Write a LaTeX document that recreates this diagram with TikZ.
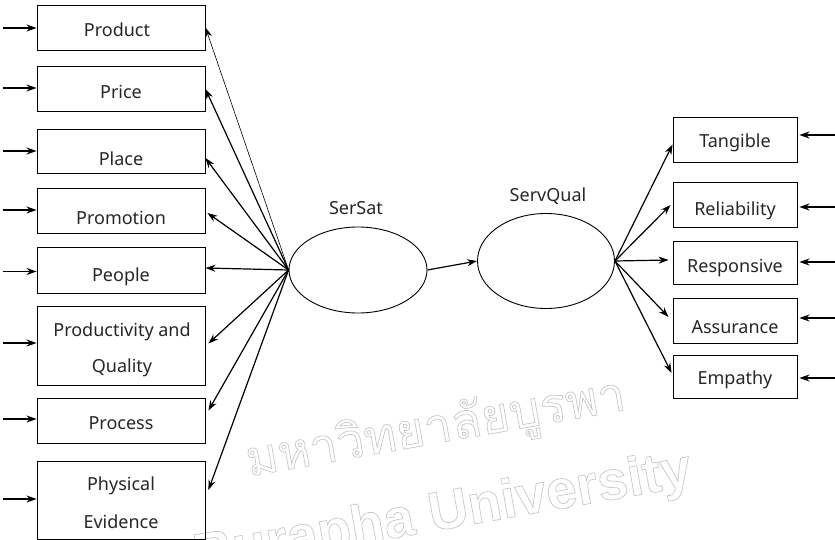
\documentclass[tikz,border=0pt]{standalone}
\usepackage{fontspec}
\setmainfont{Noto Sans}
\newfontfamily\thaifont[Script=Thai]{Loma}
\newfontfamily\wmfont{Liberation Sans}
\usetikzlibrary{arrows.meta,shapes.geometric}
\tikzset{
  box/.style={draw, line width=0.9pt, inner sep=0pt},
  lbl/.style={font=\fontsize{18}{20}\selectfont, inner sep=0pt, text=black!85},
  arr/.style={line width=1.2pt, -{Stealth[length=10pt,width=7pt]}},
  thinarr/.style={line width=0.6pt, -{Stealth[length=10pt,width=7pt]}},
  lat/.style={draw, ellipse, line width=0.9pt, inner sep=0pt},
  wm/.style={text=black!22, inner sep=0pt, rotate=10},
}
\newcommand{\outl}[1]{\special{pdf:code 1 Tr 0.7 w}#1\special{pdf:code 0 Tr}}
\begin{document}
\begin{tikzpicture}[x=1pt,y=-1pt]
\useasboundingbox (0,0) rectangle (835,540);
% watermark
\node[wm, font=\thaifont\fontsize{49}{54}\selectfont] (wm1) at (436,430) {\outl{มหาวิทยาลัยบูรพา}};
\node[wm, font=\wmfont\bfseries\fontsize{55}{60}\selectfont] (wm2) at (443,515) {\outl{Burapha University}};
% left boxes
\node[box, minimum width=168, minimum height=45] (prod) at (121,27.5) {};
\node[box, minimum width=168, minimum height=45] (price) at (121,88.5) {};
\node[box, minimum width=168, minimum height=44] (place) at (121,151) {};
\node[box, minimum width=168, minimum height=45] (promo) at (121,210.5) {};
\node[box, minimum width=168, minimum height=46] (people) at (121,270) {};
\node[box, minimum width=168, minimum height=79] (pq) at (121,345.5) {};
\node[box, minimum width=168, minimum height=45] (proc) at (121,420.5) {};
\node[box, minimum width=168, minimum height=78] (phys) at (121,500) {};
\node[lbl] (tprod) at (117,30) {Product};
\node[lbl] (tprice) at (121,92) {Price};
\node[lbl] (tplace) at (121,159) {Place};
\node[lbl] (tpromo) at (121,218) {Promotion};
\node[lbl] (tpeople) at (121,277) {People};
\node[lbl] (tpq1) at (122,332) {Productivity and};
\node[lbl] (tpq2) at (122,368) {Quality};
\node[lbl] (tproc) at (121,423) {Process};
\node[lbl] (tphys1) at (121,486) {Physical};
\node[lbl] (tphys2) at (121,522) {Evidence};
% right boxes
\node[box, minimum width=124, minimum height=45] (tang) at (735,139.5) {};
\node[box, minimum width=124, minimum height=45] (rel) at (735,204.5) {};
\node[box, minimum width=124, minimum height=43] (resp) at (735,263) {};
\node[box, minimum width=124, minimum height=45] (assu) at (735,320.5) {};
\node[box, minimum width=124, minimum height=43] (emp) at (735,376.5) {};
\node[lbl] (ttang) at (735,143) {Tangible};
\node[lbl] (trel) at (735,211) {Reliability};
\node[lbl] (tresp) at (735,268) {Responsive};
\node[lbl] (tassu) at (735,327) {Assurance};
\node[lbl] (temp) at (735,380) {Empathy};
% latent variables
\node[lat, minimum width=138, minimum height=86] (sersat) at (358,270) {};
\node[lat, minimum width=137, minimum height=95] (servq) at (546,261) {};
\node[lbl] (tsersat) at (356,208) {SerSat};
\node[lbl] (tservq) at (548,196) {ServQual};
\draw[arr] (sersat.east) -- (servq.west);
% left error arrows
\foreach \b/\dy in {prod/-0.5,price/0.5,place/0,promo/0.5,people/-1.5,pq/2.5,proc/1.5,phys/1}{
  \coordinate (e\b) at ([xshift=-34pt,yshift=\dy pt]\b.west);
  \draw[arr] (e\b) -- ([yshift=\dy pt]\b.west);
}
% SerSat to indicators
\draw[thinarr] (sersat.west) -- ([yshift=0pt]prod.east);
\draw[arr] (sersat.west) -- ([yshift=-0.5pt]price.east);
\draw[arr] (sersat.west) -- ([yshift=-7pt]place.east);
\draw[arr] (sersat.west) -- ([xshift=2pt,yshift=-2.5pt]promo.east);
\draw[arr] (sersat.west) -- ([yshift=2pt]people.east);
\draw[arr] (sersat.west) -- ([xshift=3pt,yshift=2pt]pq.east);
\draw[arr] (sersat.west) -- ([xshift=3pt,yshift=10pt]proc.east);
\draw[arr] (sersat.west) -- ([xshift=3pt,yshift=10pt]phys.east);
% ServQual to indicators
\draw[arr] (servq.east) -- ([yshift=-5pt]tang.west);
\draw[arr] (servq.east) -- ([xshift=-2pt,yshift=-0.5pt]rel.west);
\draw[arr] (servq.east) -- ([xshift=-4pt,yshift=3pt]resp.west);
\draw[arr] (servq.east) -- ([xshift=-4pt,yshift=3.5pt]assu.west);
\draw[arr] (servq.east) -- ([xshift=-1pt,yshift=3.5pt]emp.west);
% right error arrows
\foreach \b/\dy in {tang/4.5,rel/-2.5,resp/1,assu/2.5,emp/-1.5}{
  \coordinate (r\b) at ([xshift=38pt,yshift=\dy pt]\b.east);
  \draw[arr] (r\b) -- ([xshift=2pt,yshift=\dy pt]\b.east);
}
\end{tikzpicture}
\end{document}
